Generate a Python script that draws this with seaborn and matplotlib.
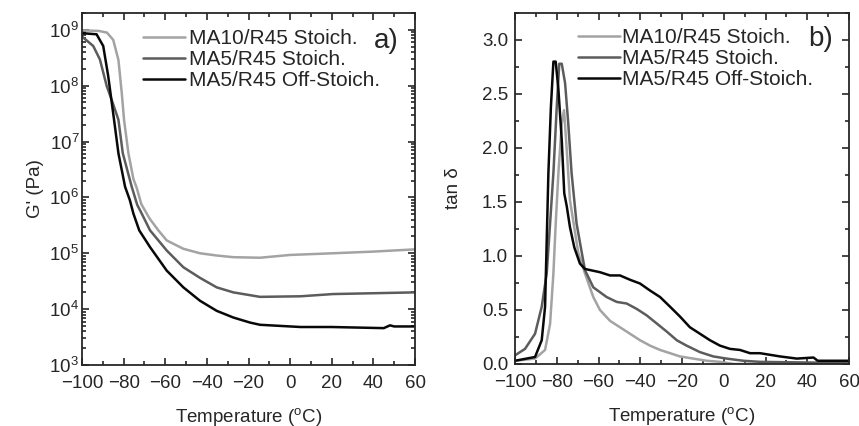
import numpy as np
import pandas as pd
import matplotlib
matplotlib.use("Agg")
import matplotlib.pyplot as plt
import seaborn as sns
from matplotlib.ticker import (MultipleLocator, FixedLocator, LogFormatterSciNotation,
                               NullFormatter, FormatStrFormatter)

# ---------------- data ----------------
series_names = ["MA10/R45 Stoich.", "MA5/R45 Stoich.", "MA5/R45 Off-Stoich."]
series_colors = ["#a3a3a3", "#5c5c5c", "#080808"]

# Panel a) storage modulus: log10(G' / Pa) vs temperature (deg C)
g_ma10_T = [-100, -92, -88, -85, -82.5, -80.9, -79.8, -77.7, -75.3, -73.7, -71.5, -67.5, -63.3, -59.3,
            -51.3, -43.3, -35.3, -27.3, -14.5, 0, 20.6, 40, 60]
g_ma10_logG = [8.99, 8.98, 8.95, 8.82, 8.46, 7.87, 7.39, 6.79, 6.33, 6.17, 5.88, 5.62, 5.41, 5.23,
               5.08, 5.0, 4.96, 4.93, 4.92, 4.97, 5.0, 5.03, 5.07]

g_ma5_T = [-100, -94.6, -91.4, -88.1, -85.5, -82.5, -80.4, -76.1, -73.5, -71.3, -67.3, -59.3, -51.3,
           -43.3, -35.3, -27.3, -14.5, 5, 20.6, 60]
g_ma5_logG = [8.88, 8.71, 8.47, 7.99, 7.72, 7.39, 6.79, 6.19, 5.87, 5.71, 5.41, 5.05, 4.75,
              4.56, 4.39, 4.30, 4.22, 4.23, 4.27, 4.30]

g_off_T = [-100, -93, -89.8, -87.4, -84.6, -82.5, -79.3, -77, -75.3, -72.5, -67.3, -59.3, -51.3, -43.3,
           -35.3, -27.3, -19.3, -14.5, 5, 20, 45, 48, 50, 60]
g_off_logG = [8.94, 8.92, 8.71, 8.17, 7.39, 6.79, 6.19, 5.95, 5.71, 5.41, 5.11, 4.69, 4.39, 4.15,
              3.97, 3.85, 3.76, 3.72, 3.68, 3.68, 3.66, 3.71, 3.69, 3.69]

# Panel b) tan delta vs temperature (deg C)
t_ma10_T = [-100, -90.4, -85.6, -83.2, -81.6, -80.5, -79.2, -77.6, -76.5, -75.2, -73.7, -69.7, -66.5,
            -62.5, -59.3, -54.5, -49.7, -44.9, -40.1, -35.3, -30.5, -25.7, -21, -14.6, -8.2, -1.8, 5, 20, 60]
t_ma10_tan = [0.03, 0.05, 0.13, 0.37, 0.84, 1.30, 1.77, 2.23, 2.35, 1.98, 1.52, 1.03, 0.84,
              0.62, 0.50, 0.40, 0.34, 0.28, 0.22, 0.17, 0.13, 0.10, 0.07, 0.05, 0.03, 0.02, 0.0, 0.0, 0.0]

t_ma5_T = [-100, -95.2, -90.4, -87.2, -84.8, -83.2, -81.6, -80, -78.8, -77.6, -76, -74.5, -72.9, -70.5,
           -68, -66.5, -62.5, -56.1, -51.3, -46.5, -41.7, -36.9, -32.1, -27.3, -22.5, -17.8, -11.4, -5,
           1.4, 9.4, 17.4, 35, 60]
t_ma5_tan = [0.08, 0.14, 0.28, 0.53, 0.84, 1.30, 1.77, 2.38, 2.78, 2.78, 2.60, 2.23, 1.77, 1.30,
             1.03, 0.87, 0.71, 0.62, 0.575, 0.56, 0.51, 0.45, 0.375, 0.30, 0.22, 0.17, 0.11, 0.07,
             0.05, 0.03, 0.02, 0.015, 0.01]

t_off_T = [-100, -90.4, -87.2, -85.6, -84.8, -84, -82.8, -81.6, -80.5, -79.2, -77.6, -76.4, -75.2, -73.7,
           -71.6, -68.9, -66.5, -64.1, -59.3, -54.5, -49.7, -44.9, -40.1, -35.3, -30.5, -25.7, -21,
           -16.2, -11.4, -6.6, -1.8, 3, 7.8, 12.6, 17.4, 27, 35, 43, 45, 51, 60]
t_off_tan = [0.03, 0.065, 0.22, 0.53, 1.15, 1.77, 2.38, 2.80, 2.80, 2.54, 2.07, 1.58, 1.46, 1.27,
             1.08, 0.93, 0.88, 0.87, 0.85, 0.82, 0.82, 0.78, 0.745, 0.68, 0.62, 0.53, 0.44,
             0.34, 0.28, 0.22, 0.17, 0.14, 0.13, 0.10, 0.10, 0.07, 0.05, 0.06, 0.03, 0.03, 0.03]

x_ticks = [-100, -80, -60, -40, -20, 0, 20, 40, 60]
g_ticks = [1e3, 1e4, 1e5, 1e6, 1e7, 1e8, 1e9]
tan_ticks = [0.0, 0.5, 1.0, 1.5, 2.0, 2.5, 3.0]

# ---------------- tables ----------------
dfa = pd.concat([
    pd.DataFrame({"T": g_ma10_T, "G": np.power(10.0, g_ma10_logG), "s": series_names[0]}),
    pd.DataFrame({"T": g_ma5_T, "G": np.power(10.0, g_ma5_logG), "s": series_names[1]}),
    pd.DataFrame({"T": g_off_T, "G": np.power(10.0, g_off_logG), "s": series_names[2]}),
])
dfb = pd.concat([
    pd.DataFrame({"T": t_ma10_T, "tan": t_ma10_tan, "s": series_names[0]}),
    pd.DataFrame({"T": t_ma5_T, "tan": t_ma5_tan, "s": series_names[1]}),
    pd.DataFrame({"T": t_off_T, "tan": t_off_tan, "s": series_names[2]}),
])

# ---------------- style ----------------
sns.set_style("ticks")
plt.rcParams["font.family"] = ["Liberation Sans", "DejaVu Sans"]
plt.rcParams["mathtext.fontset"] = "custom"
plt.rcParams["mathtext.rm"] = "Liberation Sans"
plt.rcParams["mathtext.it"] = "Liberation Sans:italic"
plt.rcParams["mathtext.bf"] = "Liberation Sans:bold"
plt.rcParams["font.size"] = 13.5
plt.rcParams["axes.linewidth"] = 1.3

fig = plt.figure(figsize=(8.59, 4.26), dpi=100)
W, H = 859, 426
axa = fig.add_axes([82 / W, (H - 365) / H, 333 / W, 352 / H])
axb = fig.add_axes([515 / W, (H - 364) / H, 334 / W, 351 / H])

palette = dict(zip(series_names, series_colors))

sns.lineplot(data=dfa, x="T", y="G", hue="s", palette=palette, hue_order=series_names,
             ax=axa, linewidth=1.8, sort=False, estimator=None)
sns.lineplot(data=dfb, x="T", y="tan", hue="s", palette=palette, hue_order=series_names,
             ax=axb, linewidth=1.8, sort=False, estimator=None)

# panel a axes
axa.set_yscale("log")
axa.set_xlim(-100, 60)
axa.set_ylim(1e3, 2e9)
axa.yaxis.set_major_locator(FixedLocator(g_ticks))
axa.yaxis.set_major_formatter(LogFormatterSciNotation())
minor_g = [m * 10.0 ** e for e in range(3, 10) for m in range(2, 10) if m * 10.0 ** e <= 2e9]
axa.yaxis.set_minor_locator(FixedLocator(minor_g))
axa.yaxis.set_minor_formatter(NullFormatter())
axa.set_ylabel("G' (Pa)", fontsize=13.5, labelpad=4)
axa.tick_params(axis="y", which="both", pad=2)
axa.text(0.952, 0.92, "a)", transform=axa.transAxes, ha="right", va="center", fontsize=20)

# panel b axes
axb.set_xlim(-100, 60)
axb.set_ylim(0, 3.25)
axb.yaxis.set_major_locator(FixedLocator(tan_ticks))
axb.yaxis.set_minor_locator(MultipleLocator(0.25))
axb.yaxis.set_major_formatter(FormatStrFormatter("%.1f"))
axb.set_ylabel("tan \u03b4", fontsize=13.5, labelpad=14)
axb.tick_params(axis="y", which="both", pad=5)
axb.text(0.952, 0.927, "b)", transform=axb.transAxes, ha="right", va="center", fontsize=20)

for ax in (axa, axb):
    ax.set_xticks(x_ticks)
    ax.xaxis.set_minor_locator(MultipleLocator(10))
    ax.set_xlabel("Temperature ($^{\\mathrm{o}}$C)", fontsize=13.5, labelpad=10)
    ax.tick_params(which="both", direction="in", top=True, right=True, labelsize=13.5, width=1.2)
    ax.tick_params(axis="x", which="both", pad=7)
    ax.tick_params(which="major", length=5)
    ax.tick_params(which="minor", length=3)
    for sp in ax.spines.values():
        sp.set_visible(True)
        sp.set_linewidth(1.3)

axa.legend(title=None, frameon=False, loc="upper left", bbox_to_anchor=(0.183, 0.955),
           fontsize=15, handlelength=2.0, handletextpad=0.2, labelspacing=0.1,
           borderaxespad=0, borderpad=0)
axb.legend(title=None, frameon=False, loc="upper left", bbox_to_anchor=(0.189, 0.957),
           fontsize=15, handlelength=2.0, handletextpad=0.1, labelspacing=0.1,
           borderaxespad=0, borderpad=0)

fig.savefig("out.png", dpi=100)
